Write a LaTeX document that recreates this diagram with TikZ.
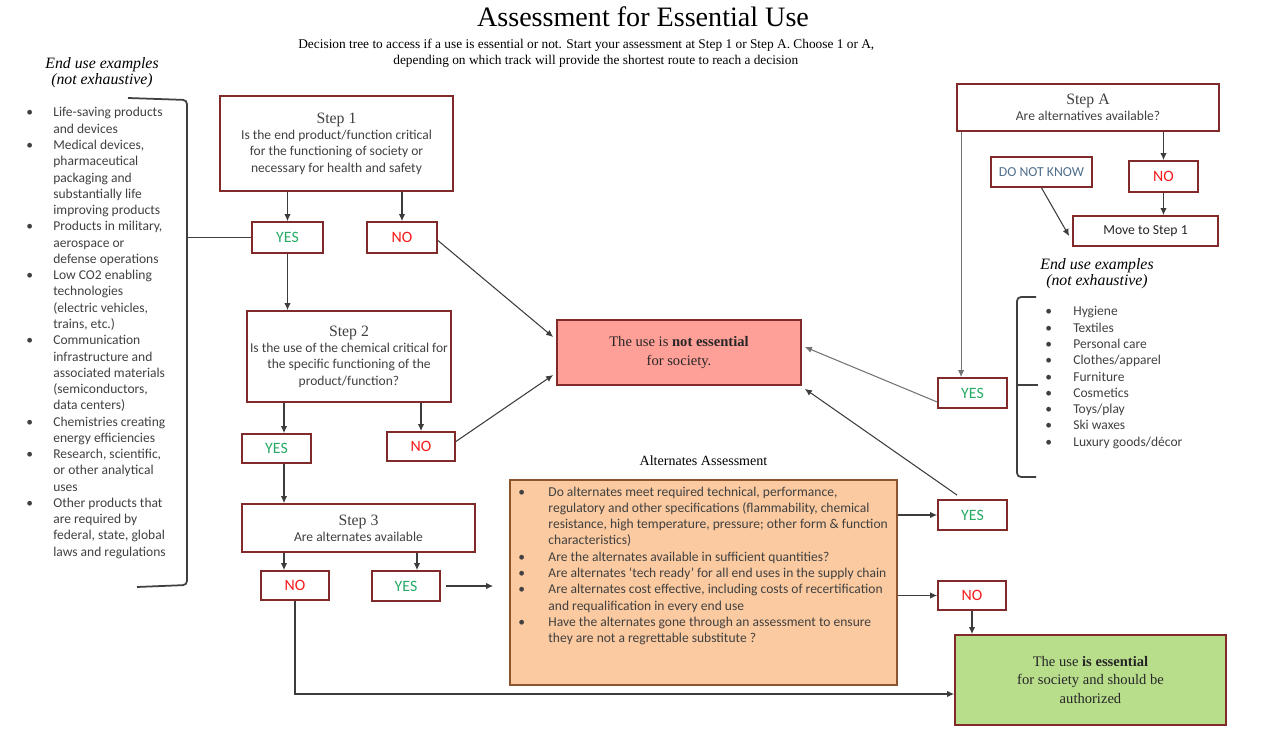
\documentclass[tikz,border=0pt]{standalone}
\usepackage{fontspec}
\setmainfont{Carlito}
\newfontfamily\slabfont{Liberation Serif}
\usetikzlibrary{arrows.meta, positioning}

\definecolor{boxred}{RGB}{128,42,42}
\definecolor{yesgreen}{RGB}{38,170,100}
\definecolor{nored}{RGB}{245,25,25}
\definecolor{dnkblue}{RGB}{80,110,140}
\definecolor{notessfill}{RGB}{255,160,152}
\definecolor{essfill}{RGB}{184,222,140}
\definecolor{altfill}{RGB}{251,202,160}
\definecolor{altline}{RGB}{140,85,45}
\definecolor{arrgray}{RGB}{60,60,60}
\definecolor{lightarr}{RGB}{115,115,115}
\definecolor{textgray}{RGB}{64,64,64}

\newcommand{\pu}{0.02cm}
\newcommand{\bodyfont}{\fontsize{7.7}{9.26}\selectfont}
\newcommand{\headfont}{\slabfont\fontsize{9}{9.26}\selectfont}
\newcommand{\outfont}{\slabfont\fontsize{8.3}{10.5}\selectfont}
\newcommand{\subfont}{\slabfont\fontsize{7.6}{9}\selectfont}

\begin{document}
\begin{tikzpicture}[
    x=\pu, y=-\pu,
    >={Latex[length=4pt,width=3.6pt]}, % Small filled arrow tips
    qbox/.style={draw=boxred, line width=1pt, align=center, font=\bodyfont, text=textgray, inner sep=1pt}, % Question boxes
    ans/.style={draw=boxred, line width=1pt, font=\fontsize{9}{10}\selectfont, inner sep=1pt}, % Answer boxes
    yesbox/.style={ans, text=yesgreen},
    nobox/.style={ans, text=nored},
    endbox/.style={draw=boxred, line width=1pt, align=center, font=\outfont, text=black!85}, % Outcome boxes
    arr/.style={->, draw=arrgray, line width=0.6pt}, % Connectors
    thinarr/.style={->, draw=lightarr, line width=0.6pt},
    brace/.style={draw=black!75, line width=1pt, rounded corners=0.08cm}, % Brackets round the lists
    listtext/.style={font=\bodyfont, text=textgray, inner sep=0pt, anchor=base west}
]

    % Page size
    \useasboundingbox (0,0) rectangle (1286,729);

    % Title and subtitle
    \node[font=\slabfont\fontsize{16}{18}\selectfont] (title) at (643,17) {Assessment for Essential Use};
    \node[font=\subfont, anchor=west, inner sep=0pt] (sub1) at (298,45) {Decision tree to access if a use is essential or not. Start your assessment at Step 1 or Step A. Choose 1 or A,};
    \node[font=\subfont, anchor=west, inner sep=0pt] (sub2) at (393,61) {depending on which track will provide the shortest route to reach a decision};

    % Left examples
    \node[font=\slabfont\itshape\fontsize{9}{9.26}\selectfont, align=center] (lhead) at (102,73) {End use examples\\(not exhaustive)};
    \node[listtext] (llist) at (26,117) {\begin{tabular}[t]{@{}p{0.54cm}@{}l@{}}
        \textbullet & Life-saving products\\
        & and devices\\
        \textbullet & Medical devices,\\
        & pharmaceutical\\
        & packaging and\\
        & substantially life\\
        & improving products\\
        \textbullet & Products in military,\\
        & aerospace or\\
        & defense operations\\
        \textbullet & Low CO2 enabling\\
        & technologies\\
        & (electric vehicles,\\
        & trains, etc.)\\
        \textbullet & Communication\\
        & infrastructure and\\
        & associated materials\\
        & (semiconductors,\\
        & data centers)\\
        \textbullet & Chemistries creating\\
        & energy efficiencies\\
        \textbullet & Research, scientific,\\
        & or other analytical\\
        & uses\\
        \textbullet & Other products that\\
        & are required by\\
        & federal, state, global\\
        & laws and regulations
    \end{tabular}};
    \draw[brace] (128,98) -- (187,100) -- (187,585) -- (137,587);
    \coordinate (ltip) at (187,237.5);

    % Step 1 track
    \node[qbox, minimum width=233*\pu, minimum height=95*\pu] (step1) at (336.5,143.5)
        {{\headfont Step 1}\\Is the end product/function critical\\for the functioning of society or\\necessary for health and safety};
    \node[yesbox, minimum width=71*\pu, minimum height=31*\pu] (yes1) at (287.5,237.5) {YES};
    \node[nobox, minimum width=70*\pu, minimum height=31*\pu] (no1) at (402,237.5) {NO};

    \node[qbox, minimum width=204*\pu, minimum height=91*\pu] (step2) at (349,356.5)
        {{\headfont Step 2}\\Is the use of the chemical critical for\\the specific functioning of the\\product/function?};
    \node[yesbox, minimum width=69*\pu, minimum height=29*\pu] (yes2) at (276.5,448.5) {YES};
    \node[nobox, minimum width=68*\pu, minimum height=29*\pu] (no2) at (421,446.5) {NO};

    \node[qbox, minimum width=233*\pu, minimum height=48*\pu] (step3) at (358.5,528)
        {{\headfont Step 3}\\Are alternates available};
    \node[nobox, minimum width=68*\pu, minimum height=29*\pu] (no3) at (295,585.5) {NO};
    \node[yesbox, minimum width=68*\pu, minimum height=30*\pu] (yes3) at (406,586) {YES};

    % Outcomes
    \node[endbox, fill=notessfill, minimum width=244*\pu, minimum height=65*\pu] (notess) at (679,352.5)
        {The use is \textbf{not essential}\\for society.};
    \node[endbox, fill=essfill, minimum width=271*\pu, minimum height=90*\pu] (ess) at (1090.5,680)
        {The use \textbf{is essential}\\for society and should be\\authorized};

    % Alternates assessment
    \node[draw=altline, line width=1pt, fill=altfill, minimum width=387*\pu, minimum height=205*\pu] (alt) at (703.5,582.5) {};
    \node[font=\slabfont\fontsize{8}{9}\selectfont, above=0.15cm of alt] (althead) {Alternates Assessment};
    \node[listtext] (altlist) at ([xshift=0.18cm,yshift=-0.34cm]alt.north west) {\begin{tabular}[t]{@{}p{0.6cm}@{}l@{}}
        \textbullet & Do alternates meet required technical, performance,\\
        & regulatory and other specifications (flammability, chemical\\
        & resistance, high temperature, pressure; other form \& function\\
        & characteristics)\\
        \textbullet & Are the alternates available in sufficient quantities?\\
        \textbullet & Are alternates ‘tech ready’ for all end uses in the supply chain\\
        \textbullet & Are alternates cost effective, including costs of recertification\\
        & and requalification in every end use\\
        \textbullet & Have the alternates gone through an assessment to ensure\\
        & they are not a regrettable substitute ?
    \end{tabular}};
    \node[yesbox, minimum width=69*\pu, minimum height=30*\pu] (yes4) at (972.5,515) {YES};
    \node[nobox, minimum width=68*\pu, minimum height=29*\pu] (no4) at (972,595.5) {NO};

    % Step A track
    \node[qbox, minimum width=262*\pu, minimum height=47*\pu] (stepA) at (1088,107.5)
        {{\headfont Step A}\\Are alternatives available?};
    \node[ans, text=dnkblue, font=\fontsize{7.8}{9}\selectfont, minimum width=101*\pu, minimum height=30*\pu] (dnk) at (1041.5,172) {DO NOT KNOW};
    \node[nobox, minimum width=69*\pu, minimum height=31*\pu] (noA) at (1163.5,176.5) {NO};
    \node[ans, text=black!85, font=\fontsize{7.8}{9}\selectfont, minimum width=145*\pu, minimum height=30*\pu] (move) at (1145.5,231) {Move to Step 1};
    \node[yesbox, minimum width=69*\pu, minimum height=30*\pu] (yesA) at (972.5,393) {YES};

    % Right examples
    \node[font=\slabfont\itshape\fontsize{9}{9.26}\selectfont, align=center] (rhead) at (1097,274) {End use examples\\(not exhaustive)};
    \node[listtext] (rlist) at (1045,316) {\begin{tabular}[t]{@{}p{0.56cm}@{}l@{}}
        \textbullet & Hygiene\\
        \textbullet & Textiles\\
        \textbullet & Personal care\\
        \textbullet & Clothes/apparel\\
        \textbullet & Furniture\\
        \textbullet & Cosmetics\\
        \textbullet & Toys/play\\
        \textbullet & Ski waxes\\
        \textbullet & Luxury goods/décor
    \end{tabular}};
    \draw[brace] (1036,297) -- (1017,297) -- (1017,477) -- (1036,477);
    \draw[brace] (1017,385) -- (1038,385);

    % Connectors of the Step 1 track
    \draw[brace] (ltip) -- (yes1.west);
    \draw[arr] (step1.south -| yes1) -- (yes1);
    \draw[arr] (step1.south -| no1) -- (no1);
    \draw[arr] ([yshift=-0.06cm]no1.east) -- ([xshift=-0.06cm,yshift=0.31cm]notess.west);
    \draw[arr] (yes1.south) -- (yes1.south |- step2.north);
    \draw[arr] ([xshift=0.15cm]step2.south -| yes2) -- ([xshift=0.15cm]yes2.north);
    \draw[arr] (step2.south -| no2) -- (no2);
    \draw[arr] ([yshift=0.1cm]no2.east) -- ([xshift=-0.06cm,yshift=-0.45cm]notess.west);
    \draw[arr] ([xshift=0.15cm]yes2.south) -- ([xshift=0.15cm]yes2.south |- step3.north);
    \draw[arr] ([xshift=-0.22cm]step3.south -| no3) -- ([xshift=-0.22cm]no3.north);
    \draw[arr] ([xshift=0.22cm]step3.south -| yes3) -- ([xshift=0.22cm]yes3.north);
    \draw[arr, shorten <=0.1cm, shorten >=0.32cm] (yes3.east) -- (yes3.east -| alt.west);
    \draw[arr] (no3.south) |- ([yshift=-0.28cm]ess.west);

    % Connectors of the alternates assessment
    \draw[arr] (alt.east |- yes4) -- (yes4.west);
    \draw[arr] (alt.east |- no4) -- (no4.west);
    \draw[arr] (no4.south) -- (no4.south |- ess.north);
    \draw[arr] ([xshift=0.4cm,yshift=0.08cm]yes4.north west) -- ([xshift=0.06cm,yshift=-0.06cm]notess.south east);

    % Connectors of the Step A track
    \draw[thinarr] ([xshift=0.1cm]stepA.south west) -- ([xshift=0.1cm]stepA.south west |- yesA.north);
    \draw[thinarr] ([yshift=-0.18cm]yesA.west) -- ([xshift=0.06cm,yshift=0.11cm]notess.east);
    \draw[arr] (stepA.south -| noA) -- (noA);
    \draw[arr] (noA.south) -- (noA.south |- move.north);
    \draw[arr] (dnk.south) -- ([yshift=-0.1cm,xshift=-0.06cm]move.west);

\end{tikzpicture}
\end{document}
